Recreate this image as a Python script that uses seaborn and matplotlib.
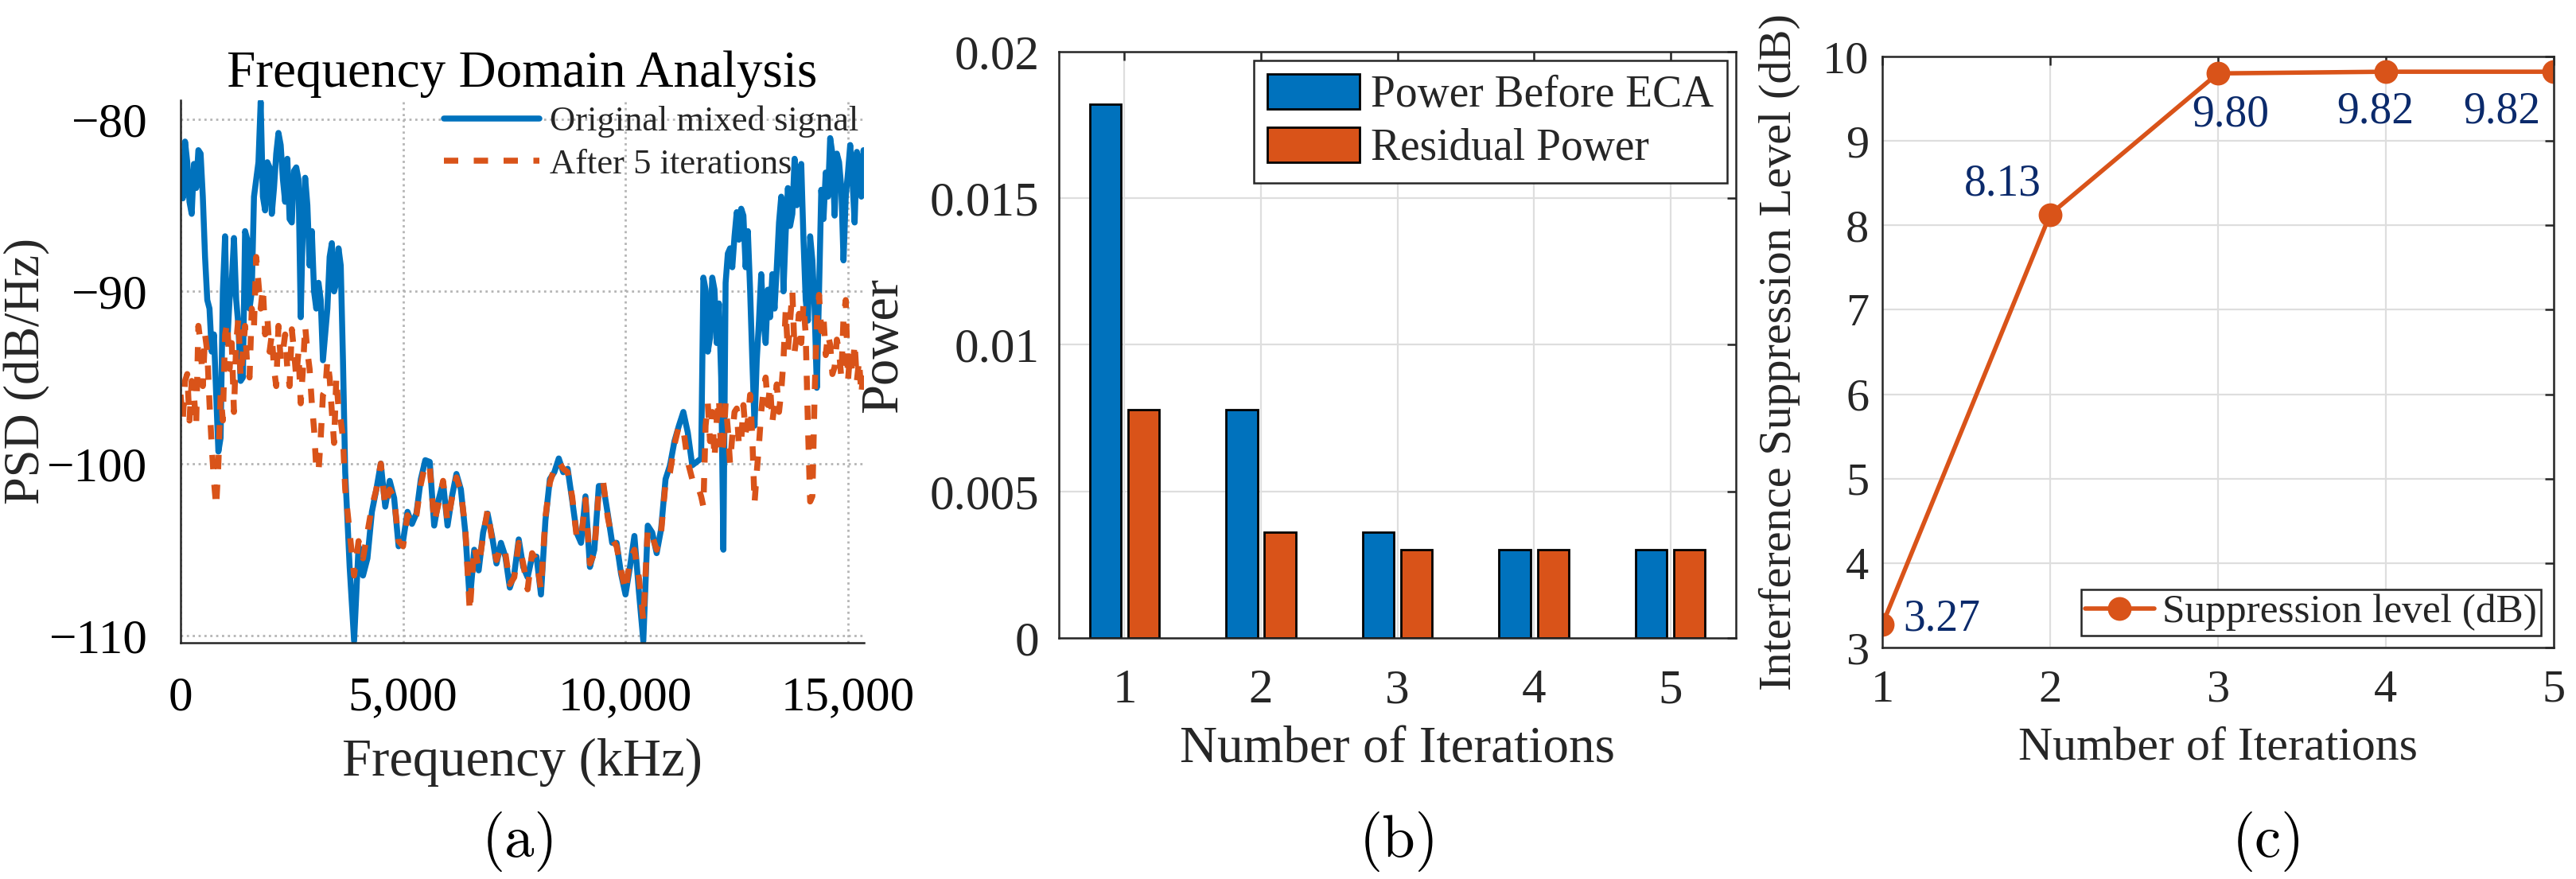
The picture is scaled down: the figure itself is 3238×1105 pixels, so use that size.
import numpy as np
import pandas as pd
import matplotlib
matplotlib.use("Agg")
import matplotlib.pyplot as plt
import seaborn as sns
from matplotlib.ticker import FuncFormatter, MultipleLocator

sns.set_theme(style="white")
plt.rcParams['font.family'] = ['Liberation Serif', 'DejaVu Serif']
plt.rcParams['axes.unicode_minus'] = True

BLUE = '#0072BD'
ORANGE = '#D95319'
NAVY = '#0B2A6B'
INK = '#262626'

# ---- panel (a): PSD curves, every 100 kHz ----
freq_khz = np.arange(0, 15500, 100)

psd_original = [
    -83.0, -81.3, -84.8, -82.6, -81.8, -84.5, -90.5, -93.5, -96.0, -98.5,
    -86.8, -90.5, -86.9, -92.0, -95.0, -87.0, -90.0, -83.5, -79.0, -85.3,
    -82.8, -84.0, -80.8, -83.5, -82.3, -86.0, -82.8, -91.5, -83.4, -88.5,
    -90.0, -89.5, -94.0, -91.0, -87.2, -89.5, -88.5, -100.5, -106.0, -110.3,
    -104.8, -106.5, -105.5, -102.8, -101.5, -100.0, -102.5, -101.0, -102.0, -104.8,
    -104.5, -102.8, -103.5,
    -102.9, -100.9, -99.8, -99.9, -103.6, -102.1, -101.1, -103.6, -101.9, -100.6,
    -101.5, -104.0, -108.0, -105.0, -106.2, -104.0, -102.9, -104.2, -105.8, -104.6,
    -105.4, -107.2, -106.4, -104.4, -106.0, -106.6, -105.4, -105.4, -107.6, -103.3,
    -100.9, -100.5, -99.7, -100.5, -100.3, -102.1, -104.0, -104.6, -101.9, -106.0,
    -105.0, -101.3, -101.3, -102.9, -104.6, -104.6, -106.4, -107.6,
    -106.0, -104.2, -107.4, -110.3, -103.6, -104.0, -105.2, -103.8, -100.9, -100.1,
    -98.7, -97.8, -97.0, -98.2, -100.1, -99.9, -99.7, -89.9, -92.7, -89.9,
    -90.7, -105.0, -87.8, -88.6, -85.4, -85.2, -88.6, -89.9, -97.8, -91.7,
    -91.7, -89.9, -89.0, -88.6, -84.5, -86.6, -86.2, -82.3, -83.5, -87.0,
    -91.7, -88.2, -95.6, -84.1, -83.1, -81.1, -85.6, -82.5, -88.2, -83.1,
    -83.5, -81.9, -84.5, -82.9,
]

psd_after = [
    -96.0, -95.2, -97.5, -96.0, -92.0, -95.5, -93.5, -99.0, -102.5, -96.0,
    -92.5, -94.5, -97.0, -91.5, -93.5, -94.5, -91.0, -88.0, -91.0, -92.5,
    -93.5, -94.5, -92.0, -93.5, -94.5, -92.2, -95.0, -96.5, -92.0, -94.5,
    -98.0, -100.5, -96.0, -94.0, -97.0, -95.0, -97.5, -101.5, -104.0, -106.5,
    -104.5, -105.5, -104.0, -102.5, -101.5, -100.0, -102.5, -101.5, -102.0, -104.5,
    -104.8, -103.0, -103.5,
    -103.0, -101.2, -100.0, -100.2, -103.4, -102.3, -101.0, -103.4, -102.0, -100.8,
    -101.6, -103.8, -108.6, -104.8, -106.0, -104.2, -102.7, -104.4, -105.6, -104.8,
    -105.2, -107.0, -106.6, -104.6, -105.8, -107.3, -105.2, -105.6, -107.3, -103.1,
    -101.1, -100.3, -99.9, -100.3, -100.5, -101.9, -104.2, -104.4, -102.1, -105.8,
    -105.2, -101.5, -101.1, -103.1, -104.4, -104.8, -106.2, -107.4,
    -105.6, -105.0, -106.6, -109.1, -103.8, -104.2, -105.0, -104.0, -101.1, -100.5,
    -98.9, -97.8, -98.0, -99.9, -100.9, -101.1, -101.9, -97.8, -98.7, -99.7,
    -96.2, -98.9, -98.0, -98.4, -96.8, -98.7, -98.2, -96.0, -102.3, -98.9,
    -95.8, -96.6, -97.6, -95.4, -95.8, -91.1, -91.7, -93.5, -91.3, -90.7,
    -97.8, -101.9, -91.7, -92.3, -93.7, -93.1, -94.4, -93.5, -91.5, -95.2,
    -94.8, -95.2, -96.0, -95.4,
]

# extra readings in the two noisy bands (half-way between the 100 kHz points)
freq_left_khz = np.arange(50, 3700, 100)
freq_right_khz = np.arange(11750, 15400, 100)

orig_left = [
    -84.6, -82.5, -85.5, -84.0, -82.0, -88.0, -91.0, -92.5, -99.3, -90.0,
    -93.0, -89.5, -90.5, -95.2, -86.5, -91.0, -84.5, -82.5, -84.5, -82.5,
    -85.5, -82.0, -81.5, -84.8, -85.8, -83.0, -83.5, -86.0, -85.0, -86.5,
    -91.0, -90.5, -92.5, -88.0, -90.0, -87.5, -94.0,
]
after_left = [
    -97.5, -94.8, -95.2, -97.8, -93.0, -92.5, -96.5, -101.0, -100.0, -97.5,
    -91.8, -93.0, -93.0, -95.0, -92.0, -95.0, -92.0, -89.5, -89.8, -91.5,
    -92.5, -95.5, -94.0, -92.5, -95.5, -93.5, -93.5, -94.5, -93.5, -96.5,
    -100.3, -98.5, -95.8, -95.0, -98.8, -96.8, -98.5,
]
orig_right = [
    -89.2, -93.5, -89.2, -93.0, -95.0, -89.5, -87.5, -86.8, -87.0, -85.6,
    -86.5, -94.0, -94.0, -89.0, -93.0, -91.5, -91.0, -86.0, -90.0, -84.0,
    -85.5, -85.0, -82.6, -90.5, -86.8, -91.0, -90.0, -85.8, -84.5, -82.0,
    -82.0, -84.0, -84.5, -81.5, -86.0, -82.5, -81.8,
]
after_right = [
    -102.5, -96.5, -97.0, -97.5, -99.5, -96.5, -100.0, -97.0, -99.0, -96.6,
    -97.5, -98.5, -100.5, -97.0, -95.0, -95.5, -96.5, -97.0, -94.0, -93.5,
    -90.0, -92.5, -93.0, -92.5, -102.2, -96.0, -90.2, -91.5, -92.5, -94.8,
    -92.8, -95.0, -90.5, -93.5, -93.0, -94.0, -94.5,
]

# ---- panel (b): power per iteration ----
iterations = ['1', '2', '3', '4', '5']
power_before = [0.0182, 0.0078, 0.0036, 0.0030, 0.0030]
residual_power = [0.0078, 0.0036, 0.0030, 0.0030, 0.0030]

# ---- panel (c): suppression level ----
iter_num = [1, 2, 3, 4, 5]
suppression_db = [3.27, 8.13, 9.80, 9.82, 9.82]
label_offsets_px = [(26, 7), (-60, 38), (16, -52), (-13, -50), (-65, -50)]
label_align = ['left', 'center', 'center', 'center', 'center']

fig = plt.figure(figsize=(16.19, 5.525), dpi=200)
ax_a = fig.add_axes([0.0701, 0.2688, 0.2653, 0.6172])
ax_b = fig.add_axes([0.4111, 0.2742, 0.2628, 0.6670])
ax_c = fig.add_axes([0.7307, 0.2633, 0.2606, 0.6724])

# ---------------- (a) ----------------
psd_df = pd.DataFrame({
    'freq': np.concatenate([freq_khz, freq_left_khz, freq_right_khz]),
    'orig': psd_original + orig_left + orig_right,
    'after': psd_after + after_left + after_right,
}).sort_values('freq')
sns.lineplot(data=psd_df, x='freq', y='orig', ax=ax_a, color=BLUE, linewidth=2.7,
             estimator=None, label='Original mixed signal')
sns.lineplot(data=psd_df, x='freq', y='after', ax=ax_a, color=ORANGE, linewidth=2.7,
             linestyle=(0, (2.4, 2.6)), estimator=None, label='After 5 iterations')
ax_a.set_xlim(0, 15360)
ax_a.set_ylim(-110.4, -78.9)
ax_a.set_xticks([0, 5000, 10000, 15000])
ax_a.set_yticks([-110, -100, -90, -80])
ax_a.xaxis.set_minor_locator(MultipleLocator(1000))
ax_a.yaxis.set_minor_locator(MultipleLocator(2))
ax_a.xaxis.set_major_formatter(FuncFormatter(lambda v, p: f'{v:,.0f}'))
ax_a.grid(True, which='major', color='#b5b5b5', linestyle=':', linewidth=1.0)
for s in ['top', 'right']:
    ax_a.spines[s].set_visible(False)
for s in ['left', 'bottom']:
    ax_a.spines[s].set_color(INK)
    ax_a.spines[s].set_linewidth(0.9)
ax_a.tick_params(axis='both', which='both', direction='out', colors=INK, labelcolor='black')
ax_a.tick_params(axis='both', which='major', length=3, width=0.9)
ax_a.tick_params(axis='both', which='minor', length=2.5, width=0.8)
ax_a.tick_params(axis='x', which='major', labelsize=22, pad=12)
ax_a.tick_params(axis='y', which='major', labelsize=22, pad=12)
ax_a.set_xlabel('Frequency (kHz)', fontsize=24, color=INK)
ax_a.xaxis.set_label_coords(0.5, -0.175)
ax_a.set_ylabel('PSD (dB/Hz)', fontsize=22.5, color=INK)
ax_a.yaxis.set_label_coords(-0.19, 0.5)
ax_a.set_title('Frequency Domain Analysis', fontsize=23.5, color='black', pad=6)
ax_a.legend(loc='upper right', bbox_to_anchor=(1.0, 1.0), frameon=False, fontsize=16,
            handlelength=2.7, labelspacing=0.3, borderaxespad=0.0, borderpad=0.15,
            handletextpad=0.3)

# ---------------- (b) ----------------
power_df = pd.DataFrame({
    'iteration': iterations * 2,
    'power': power_before + residual_power,
    'kind': ['Power Before ECA'] * 5 + ['Residual Power'] * 5,
})
sns.barplot(data=power_df, x='iteration', y='power', hue='kind', ax=ax_b,
            palette=[BLUE, ORANGE], width=0.56, gap=0.18, edgecolor='black',
            linewidth=1.0, errorbar=None, saturation=1)
ax_b.set_xlim(-0.48, 4.48)
ax_b.set_ylim(0, 0.02)
ax_b.set_yticks([0, 0.005, 0.01, 0.015, 0.02])
ax_b.yaxis.set_major_formatter(FuncFormatter(lambda v, p: '0' if v == 0 else f'{v:g}'))
ax_b.set_axisbelow(True)
ax_b.grid(True, color='#dedede', linestyle='-', linewidth=0.8)
for s in ax_b.spines.values():
    s.set_visible(True)
    s.set_color(INK)
    s.set_linewidth(0.9)
ax_b.tick_params(axis='both', direction='in', top=True, right=True, length=4,
                 width=0.9, colors=INK, labelcolor=INK, labelsize=22)
ax_b.tick_params(axis='x', pad=14)
ax_b.tick_params(axis='y', pad=9)
ax_b.set_xlabel('Number of Iterations', fontsize=23.5, color=INK, labelpad=6)
ax_b.set_ylabel('Power', fontsize=24, color=INK, labelpad=10)
leg_b = ax_b.legend(loc='upper right', fontsize=20, frameon=True, fancybox=False,
                    edgecolor=INK, framealpha=1, handlelength=2.1, handleheight=0.85,
                    borderaxespad=0.2, borderpad=0.3, labelspacing=0.25, handletextpad=0.25,
                    title=None)
leg_b.get_frame().set_linewidth(0.9)

# ---------------- (c) ----------------
supp_df = pd.DataFrame({'iteration': iter_num, 'level': suppression_db})
sns.lineplot(data=supp_df, x='iteration', y='level', ax=ax_c, color=ORANGE,
             linewidth=2.0, marker='o', markersize=10, markeredgecolor=ORANGE,
             estimator=None, label='Suppression level (dB)')
for x, y, (dx, dy), ha in zip(iter_num, suppression_db, label_offsets_px, label_align):
    ax_c.annotate(f'{y:.2f}', (x, y), xytext=(dx, dy), textcoords='offset pixels',
                  ha=ha, va='center', fontsize=20, color=NAVY)
ax_c.set_xlim(1, 5)
ax_c.set_ylim(3, 10)
ax_c.set_xticks(iter_num)
ax_c.set_yticks(range(3, 11))
ax_c.grid(True, color='#dedede', linestyle='-', linewidth=0.8)
for s in ax_c.spines.values():
    s.set_visible(True)
    s.set_color(INK)
    s.set_linewidth(0.9)
ax_c.tick_params(axis='both', direction='in', top=True, right=True, length=4,
                 width=0.9, colors=INK, labelcolor=INK, labelsize=21)
ax_c.tick_params(axis='x', pad=10)
ax_c.tick_params(axis='y', pad=6)
ax_c.set_xlabel('Number of Iterations', fontsize=21.5, color=INK, labelpad=7)
ax_c.set_ylabel('Interference Suppression Level (dB)', fontsize=21, color=INK, labelpad=10)
leg_c = ax_c.legend(loc='lower right', fontsize=18.5, frameon=True, fancybox=False,
                    edgecolor=INK, framealpha=1, handlelength=1.7, borderaxespad=0.3,
                    borderpad=0.1, handletextpad=0.2)
leg_c.get_frame().set_linewidth(0.9)

# panel letters
for xc, letter in zip([653, 1759, 2851], ['(a)', '(b)', '(c)']):
    fig.text(xc / 3238, 1 - 1058 / 1105, letter, ha='center', va='center',
             fontsize=27, family='cmr10', color='black')

fig.savefig('out.png', dpi=200)
